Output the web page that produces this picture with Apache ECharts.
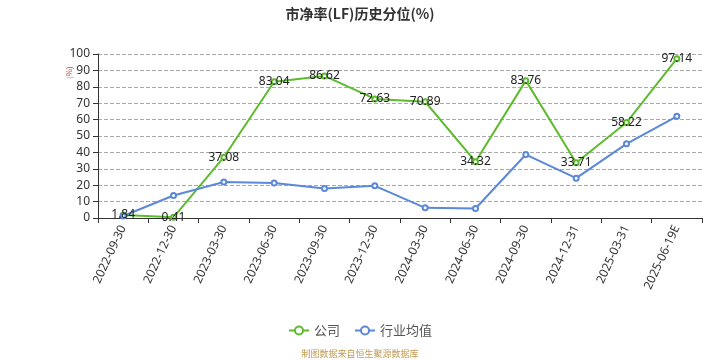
<!DOCTYPE html>
<html><head><meta charset="utf-8">
<script src="https://cdn.jsdelivr.net/npm/echarts@6/dist/echarts.min.js"></script>
<style>html,body{margin:0;padding:0;background:#fff}#c{width:720px;height:360px}</style>
</head><body><div id="c"></div>
<script>
var categories = ['2022-09-30','2022-12-30','2023-03-30','2023-06-30','2023-09-30','2023-12-30','2024-03-30','2024-06-30','2024-09-30','2024-12-31','2025-03-31','2025-06-19E'];
var companyValues = [1.84,0.41,37.08,83.04,86.62,72.63,70.89,34.32,83.76,33.71,58.22,97.14];
var industryValues = [1.2,13.7,21.9,21.4,18.0,19.6,6.2,5.8,38.7,24.3,45.2,62.0];
var yTicks = [0,10,20,30,40,50,60,70,80,90,100];

var chart = echarts.init(document.getElementById('c'));
chart.setOption({
  animation:false,
  backgroundColor:'#fff',
  title:{text:'市净率(LF)历史分位(%)',left:'center',top:2,textStyle:{fontSize:14,fontWeight:'bold',color:'#333',fontFamily:'Noto Sans CJK SC'}},
  grid:{left:98,right:18,top:54,bottom:142},
  legend:{bottom:18,left:'center',itemWidth:20,itemHeight:10,itemGap:14,textStyle:{fontSize:13,color:'#555',fontFamily:'Noto Sans CJK SC'},
    data:['公司','行业均值']},
  graphic:[
    {type:'text',left:'center',bottom:2,style:{text:'制图数据来自恒生聚源数据库',fill:'#c39b52',font:'9px "Noto Sans CJK SC"'}},
    {type:'text',x:65,y:79,rotation:Math.PI/2,originX:0,originY:0,style:{text:'(%)',fill:'#d04040',font:'8px "Noto Sans CJK SC"'}}
  ],
  xAxis:{type:'category',data:categories,boundaryGap:true,
    axisLine:{lineStyle:{color:'#333'}},axisTick:{show:true,alignWithLabel:false,lineStyle:{color:'#333'}},
    axisLabel:{rotate:65,color:'#333',fontSize:12,interval:0,fontFamily:'Noto Sans'}},
  yAxis:{type:'value',min:0,max:100,interval:10,
    axisLine:{show:true,lineStyle:{color:'#333'}},axisTick:{show:true,lineStyle:{color:'#333'}},
    axisLabel:{color:'#333',fontSize:12,fontFamily:'Noto Sans',formatter:function(v){return yTicks.indexOf(v)>=0?String(v):'';}},
    splitLine:{lineStyle:{type:'dashed',color:'#aaa'}}},
  series:[
    {name:'公司',type:'line',data:companyValues,symbol:'emptyCircle',symbolSize:5,
      itemStyle:{color:'#5dbb2e',borderWidth:1},lineStyle:{width:2,color:'#5dbb2e'},
      label:{show:true,position:'inside',color:'#222',fontSize:12,fontFamily:'Noto Sans'}},
    {name:'行业均值',type:'line',data:industryValues,symbol:'emptyCircle',symbolSize:5,
      itemStyle:{color:'#5b88d8',borderWidth:1},lineStyle:{width:2,color:'#5b88d8'}}
  ]
});
</script></body></html>
